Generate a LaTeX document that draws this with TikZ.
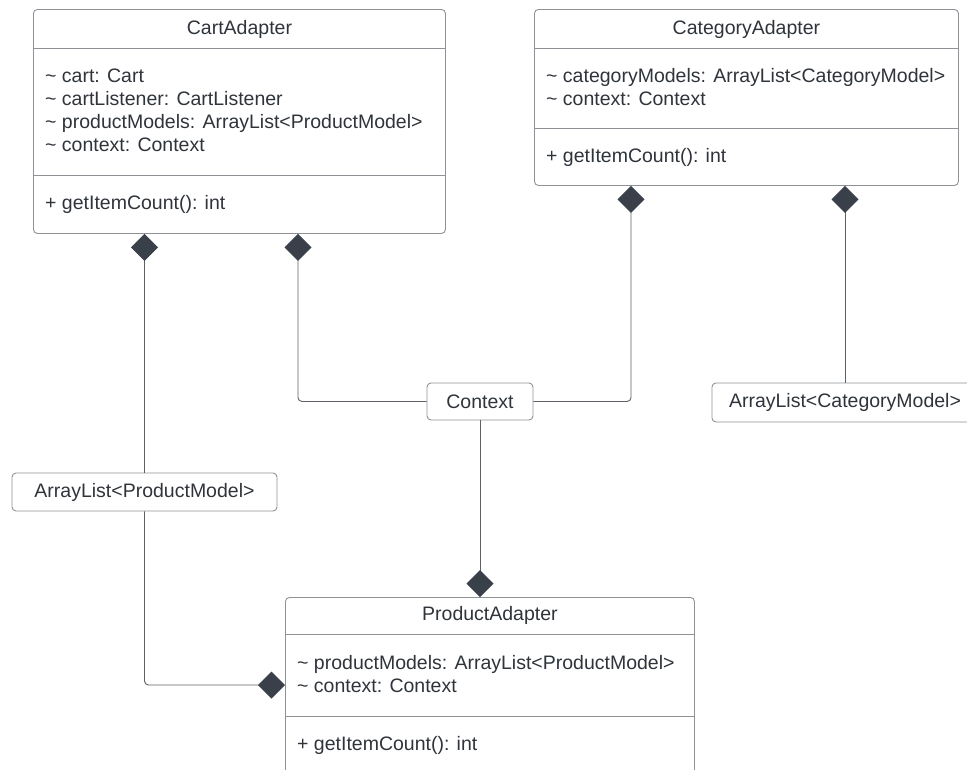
\documentclass[tikz,border=0pt]{standalone}
\usepackage{fontspec}
\setmainfont{Liberation Sans}
\usetikzlibrary{positioning,arrows.meta}
\definecolor{boxgray}{HTML}{8E9196}
\definecolor{linegray}{HTML}{5C6067}
\definecolor{txtgray}{HTML}{2F343A}
\definecolor{diam}{HTML}{3A404A}

\begin{document}
\begin{tikzpicture}
		[x=1pt,y=-1pt,font=\fontsize{19.5pt}{23.3pt}\selectfont,
		 classbox/.style={draw=boxgray,line width=0.9pt,rounded corners=4pt,anchor=north west,inner sep=0pt},
		 typebox/.style={draw=boxgray,line width=0.9pt,rounded corners=4pt,inner sep=0pt,text=txtgray},
		 sepline/.style={draw=boxgray,line width=0.9pt},
		 member/.style={anchor=base west,inner sep=0pt,text=txtgray},
		 title/.style={anchor=base,inner sep=0pt,text=txtgray},
		 comp/.style={draw=linegray,line width=0.9pt,rounded corners=4pt,
		   -{Diamond[length=27pt,width=27pt,fill=diam,color=diam]}}]
		\useasboundingbox (0,0) rectangle (967,769);
		\clip (0,0) rectangle (967,769);

		% the CartAdapter class
		\node [classbox,minimum width=412pt,minimum height=224pt] (cart) at (33,9) {};
		\draw [sepline] ([yshift=-39pt]cart.north west) -- ([yshift=-39pt]cart.north east);
		\draw [sepline] ([yshift=-166pt]cart.north west) -- ([yshift=-166pt]cart.north east);
		\node [title] at ([yshift=-25pt]cart.north) {CartAdapter};
		\foreach \m [count=\i] in {\textasciitilde\ cart: Cart,
			\textasciitilde\ cartListener: CartListener,
			\textasciitilde\ productModels: ArrayList<ProductModel>,
			\textasciitilde\ context: Context}
			\node [member] at ([xshift=12pt,yshift={-(73+23.3*(\i-1))*1pt}]cart.north west) {\m};
		\node [member] at ([xshift=12pt,yshift=-200pt]cart.north west) {+ getItemCount(): int};

		% the CategoryAdapter class
		\node [classbox,minimum width=424pt,minimum height=176pt] (cat) at (534,9) {};
		\draw [sepline] ([yshift=-39pt]cat.north west) -- ([yshift=-39pt]cat.north east);
		\draw [sepline] ([yshift=-119pt]cat.north west) -- ([yshift=-119pt]cat.north east);
		\node [title] at ([yshift=-25pt]cat.north) {CategoryAdapter};
		\node [member] at ([xshift=12pt,yshift=-73pt]cat.north west) {\textasciitilde\ categoryModels: ArrayList<CategoryModel>};
		\node [member] at ([xshift=12pt,yshift=-96.3pt]cat.north west) {\textasciitilde\ context: Context};
		\node [member] at ([xshift=12pt,yshift=-153pt]cat.north west) {+ getItemCount(): int};

		% the ProductAdapter class (runs off the bottom)
		\node [classbox,minimum width=409pt,minimum height=220pt] (prod) at (285,597) {};
		\draw [sepline] ([yshift=-37pt]prod.north west) -- ([yshift=-37pt]prod.north east);
		\draw [sepline] ([yshift=-119pt]prod.north west) -- ([yshift=-119pt]prod.north east);
		\node [title] at ([yshift=-23pt]prod.north) {ProductAdapter};
		\node [member] at ([xshift=12pt,yshift=-72pt]prod.north west) {\textasciitilde\ productModels: ArrayList<ProductModel>};
		\node [member] at ([xshift=12pt,yshift=-95.3pt]prod.north west) {\textasciitilde\ context: Context};
		\node [member] at ([xshift=12pt,yshift=-153pt]prod.north west) {+ getItemCount(): int};

		% the member types
		\node [typebox,minimum width=106pt,minimum height=37pt] (ctx) at (480,401.5) {Context};
		\node [typebox,minimum width=265pt,minimum height=38pt] (pml) at (144.5,492) {ArrayList<ProductModel>};
		\node [typebox,minimum width=266pt,minimum height=39pt] (cml) at (845,402.5) {ArrayList<CategoryModel>};

		% compositions
		\draw [comp] (pml.north) -- (pml.north |- cart.south);
		\draw [comp] (ctx.west) -| ([xshift=265pt]cart.south west);
		\draw [comp] (ctx.east) -| ([xshift=97pt]cat.south west);
		\draw [comp] (cml.north) -- (cml.north |- cat.south);
		\draw [comp] (ctx.south) -- (ctx.south |- prod.north);
		\draw [comp] (pml.south) |- ([yshift=-88pt]prod.north west);
	\end{tikzpicture}
\end{document}
